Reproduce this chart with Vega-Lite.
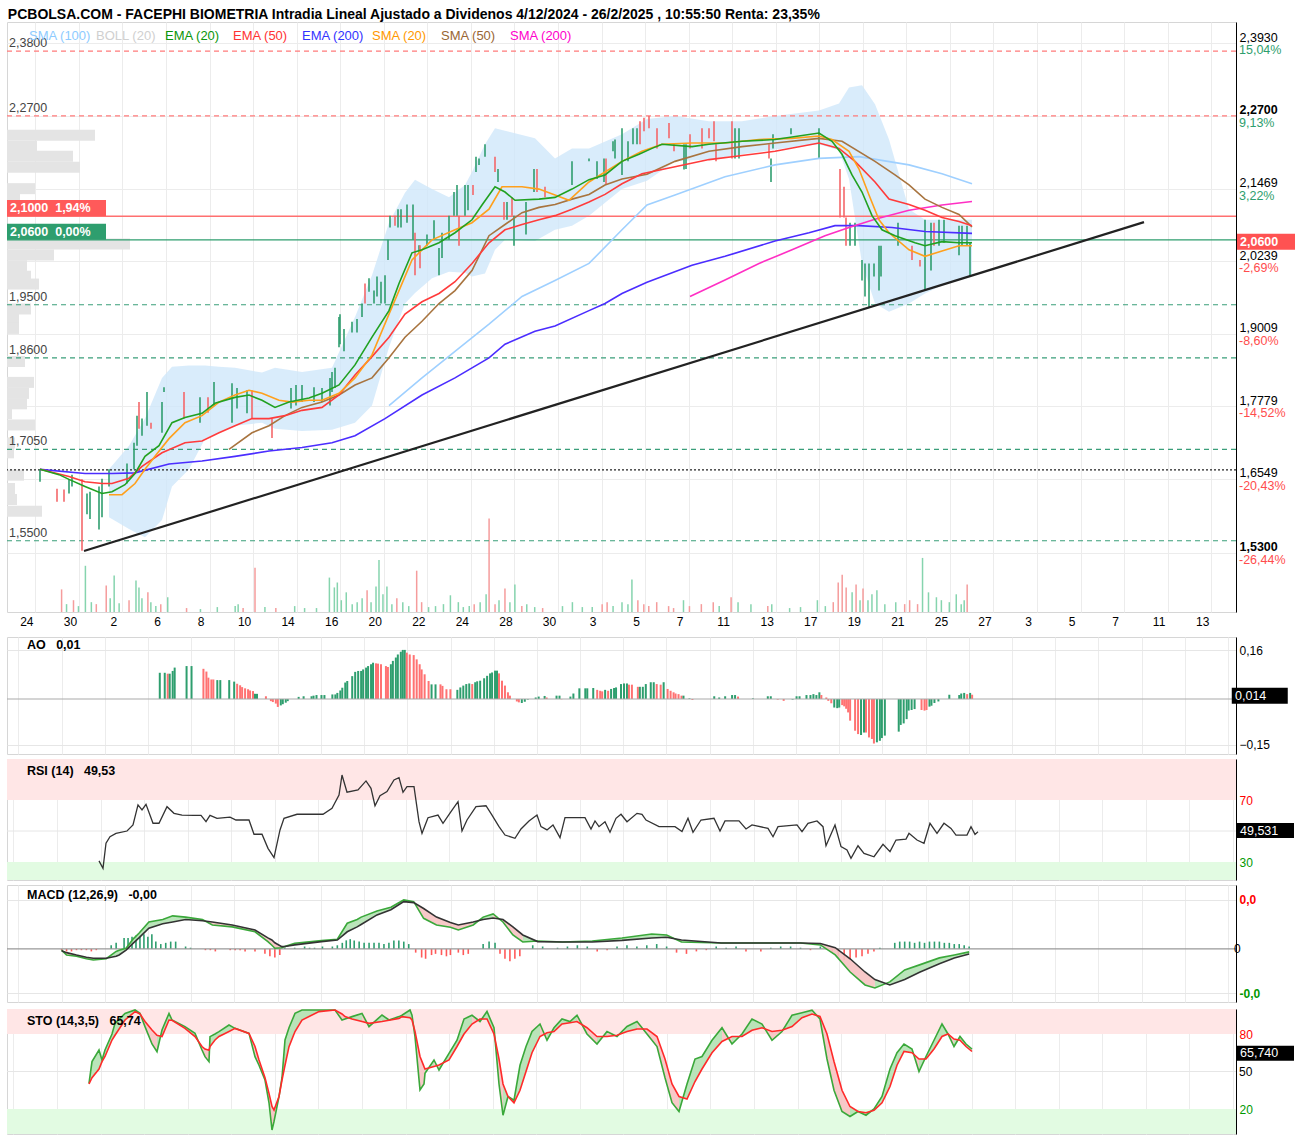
{
"$schema":"https://vega.github.io/schema/vega-lite/v6.json",
"padding":{"left":5,"top":7,"right":0,"bottom":0},
"title":{"text":"PCBOLSA.COM - FACEPHI BIOMETRIA Intradia Lineal Ajustado a Dividenos 4/12/2024 - 26/2/2025 , 10:55:50 Renta: 23,35%","anchor":"start","fontSize":14,"fontWeight":"bold","font":"Liberation Sans","color":"#000","offset":0,"dx":2},
"spacing":3,
"config":{"font":"Liberation Sans","view":{"stroke":"#d6d6d6","strokeWidth":1},"axis":{"labelFont":"Liberation Sans","labelFontSize":12,"labelColor":"#000","domainColor":"#000","ticks":false,"gridColor":"#ececec","labelPadding":3,"labelFlush":false,"labelOverlap":false}},
"vconcat":[
{"width":1229,"height":590,
 "resolve":{"scale":{"x":"independent","y":"independent"}},
 "layer":[
  {"data":{"values":[{"p":2.2425,"v":88},{"p":2.2235,"v":30},{"p":2.2065,"v":66},{"p":2.1875,"v":73},{"p":2.1505,"v":28},{"p":2.135,"v":13},{"p":2.055,"v":123},{"p":2.036,"v":47},{"p":2.0175,"v":20},{"p":1.9995,"v":24},{"p":1.986,"v":32},{"p":1.943,"v":24},{"p":1.9265,"v":12},{"p":1.9095,"v":12},{"p":1.8525,"v":18},{"p":1.8165,"v":27},{"p":1.7975,"v":22},{"p":1.7795,"v":20},{"p":1.7625,"v":5},{"p":1.743,"v":28},{"p":1.712,"v":8},{"p":1.695,"v":7},{"p":1.6565,"v":17},{"p":1.6335,"v":8},{"p":1.6145,"v":10},{"p":1.5945,"v":35}]},
   "mark":{"type":"bar","orient":"horizontal","height":11,"color":"#e4e4e4"},
   "encoding":{"x":{"field":"v","type":"quantitative","scale":{"domain":[0,1229],"nice":false},"axis":null},
     "y":{"field":"p","type":"quantitative","scale":{"domain":[1.4292,2.4292],"nice":false,"zero":false},"axis":null}}},
  {"data":{"values":[{"t":55,"v":23,"d":"d"},{"t":60,"v":8,"d":"u"},{"t":67,"v":12,"d":"d"},{"t":72,"v":6,"d":"u"},{"t":79,"v":47,"d":"u"},{"t":85,"v":10,"d":"u"},{"t":90,"v":8,"d":"d"},{"t":100,"v":27,"d":"d"},{"t":104,"v":14,"d":"u"},{"t":108,"v":37,"d":"u"},{"t":113,"v":9,"d":"u"},{"t":123,"v":12,"d":"d"},{"t":130,"v":32,"d":"u"},{"t":133,"v":25,"d":"u"},{"t":136,"v":14,"d":"u"},{"t":142,"v":20,"d":"d"},{"t":145,"v":10,"d":"u"},{"t":150,"v":6,"d":"u"},{"t":155,"v":8,"d":"d"},{"t":162,"v":15,"d":"u"},{"t":181,"v":4,"d":"d"},{"t":195,"v":3,"d":"u"},{"t":212,"v":5,"d":"u"},{"t":230,"v":6,"d":"u"},{"t":233,"v":8,"d":"u"},{"t":238,"v":4,"d":"d"},{"t":250,"v":45,"d":"d"},{"t":260,"v":5,"d":"u"},{"t":271,"v":4,"d":"d"},{"t":290,"v":6,"d":"u"},{"t":300,"v":4,"d":"u"},{"t":312,"v":4,"d":"u"},{"t":325,"v":35,"d":"u"},{"t":330,"v":25,"d":"u"},{"t":333,"v":30,"d":"u"},{"t":337,"v":12,"d":"u"},{"t":342,"v":20,"d":"u"},{"t":348,"v":8,"d":"u"},{"t":353,"v":10,"d":"u"},{"t":358,"v":14,"d":"u"},{"t":363,"v":22,"d":"d"},{"t":367,"v":10,"d":"u"},{"t":372,"v":26,"d":"u"},{"t":375,"v":53,"d":"u"},{"t":379,"v":18,"d":"u"},{"t":383,"v":26,"d":"u"},{"t":388,"v":8,"d":"u"},{"t":393,"v":14,"d":"d"},{"t":399,"v":10,"d":"u"},{"t":405,"v":6,"d":"u"},{"t":413,"v":42,"d":"d"},{"t":418,"v":10,"d":"d"},{"t":425,"v":5,"d":"u"},{"t":432,"v":6,"d":"u"},{"t":440,"v":8,"d":"u"},{"t":447,"v":17,"d":"u"},{"t":455,"v":10,"d":"u"},{"t":460,"v":5,"d":"u"},{"t":466,"v":6,"d":"u"},{"t":471,"v":8,"d":"d"},{"t":477,"v":10,"d":"u"},{"t":483,"v":18,"d":"u"},{"t":486,"v":95,"d":"d"},{"t":492,"v":8,"d":"d"},{"t":496,"v":12,"d":"u"},{"t":502,"v":24,"d":"d"},{"t":507,"v":10,"d":"u"},{"t":512,"v":28,"d":"u"},{"t":519,"v":6,"d":"d"},{"t":524,"v":8,"d":"u"},{"t":532,"v":5,"d":"u"},{"t":540,"v":4,"d":"d"},{"t":560,"v":6,"d":"u"},{"t":570,"v":10,"d":"u"},{"t":580,"v":5,"d":"u"},{"t":590,"v":5,"d":"u"},{"t":600,"v":8,"d":"d"},{"t":605,"v":10,"d":"d"},{"t":611,"v":6,"d":"u"},{"t":620,"v":10,"d":"u"},{"t":626,"v":8,"d":"u"},{"t":630,"v":33,"d":"u"},{"t":636,"v":12,"d":"d"},{"t":642,"v":8,"d":"d"},{"t":647,"v":6,"d":"d"},{"t":655,"v":10,"d":"d"},{"t":667,"v":6,"d":"d"},{"t":672,"v":4,"d":"d"},{"t":682,"v":12,"d":"u"},{"t":688,"v":6,"d":"d"},{"t":700,"v":8,"d":"d"},{"t":712,"v":10,"d":"d"},{"t":718,"v":6,"d":"u"},{"t":730,"v":15,"d":"d"},{"t":737,"v":10,"d":"u"},{"t":750,"v":8,"d":"u"},{"t":767,"v":6,"d":"d"},{"t":771,"v":8,"d":"u"},{"t":789,"v":4,"d":"u"},{"t":800,"v":5,"d":"u"},{"t":817,"v":12,"d":"u"},{"t":825,"v":6,"d":"u"},{"t":833,"v":10,"d":"d"},{"t":838,"v":30,"d":"d"},{"t":842,"v":38,"d":"d"},{"t":846,"v":25,"d":"d"},{"t":852,"v":20,"d":"u"},{"t":856,"v":28,"d":"d"},{"t":860,"v":12,"d":"u"},{"t":863,"v":24,"d":"d"},{"t":868,"v":12,"d":"u"},{"t":872,"v":18,"d":"u"},{"t":877,"v":22,"d":"u"},{"t":885,"v":8,"d":"u"},{"t":896,"v":10,"d":"u"},{"t":905,"v":8,"d":"d"},{"t":910,"v":12,"d":"d"},{"t":918,"v":8,"d":"d"},{"t":923,"v":55,"d":"u"},{"t":929,"v":20,"d":"u"},{"t":937,"v":15,"d":"u"},{"t":942,"v":12,"d":"u"},{"t":950,"v":10,"d":"u"},{"t":957,"v":18,"d":"u"},{"t":962,"v":8,"d":"u"},{"t":965,"v":12,"d":"u"},{"t":968,"v":28,"d":"d"}]},
   "mark":{"type":"bar","width":1.5},
   "encoding":{"x":{"field":"t","type":"quantitative","scale":{"domain":[5,1234],"nice":false,"zero":false},"axis":null},
     "y":{"field":"v","type":"quantitative","scale":{"domain":[0,600],"nice":false},"axis":null},
     "color":{"condition":{"test":"datum.d=='u'","value":"#86d4ae"},"value":"#f59c9c"}}},
  {"layer":[
    {"data":{"values":[{"t":107,"hi":1.671,"lo":1.590},{"t":127,"hi":1.711,"lo":1.570},{"t":143,"hi":1.757,"lo":1.556},{"t":160,"hi":1.826,"lo":1.585},{"t":170,"hi":1.845,"lo":1.642},{"t":187,"hi":1.847,"lo":1.671},{"t":203,"hi":1.847,"lo":1.723},{"t":217,"hi":1.845,"lo":1.733},{"t":233,"hi":1.843,"lo":1.745},{"t":260,"hi":1.835,"lo":1.750},{"t":273,"hi":1.843,"lo":1.740},{"t":300,"hi":1.836,"lo":1.736},{"t":330,"hi":1.843,"lo":1.738},{"t":353,"hi":1.929,"lo":1.750},{"t":370,"hi":2.000,"lo":1.779},{"t":387,"hi":2.089,"lo":1.878},{"t":403,"hi":2.140,"lo":1.952},{"t":413,"hi":2.162,"lo":1.970},{"t":430,"hi":2.146,"lo":1.995},{"t":447,"hi":2.132,"lo":2.006},{"t":463,"hi":2.153,"lo":2.004},{"t":470,"hi":2.175,"lo":1.998},{"t":483,"hi":2.222,"lo":2.003},{"t":493,"hi":2.249,"lo":2.043},{"t":503,"hi":2.245,"lo":2.060},{"t":533,"hi":2.232,"lo":2.058},{"t":553,"hi":2.198,"lo":2.077},{"t":570,"hi":2.215,"lo":2.084},{"t":587,"hi":2.215,"lo":2.101},{"t":620,"hi":2.239,"lo":2.146},{"t":645,"hi":2.265,"lo":2.160},{"t":673,"hi":2.270,"lo":2.193},{"t":707,"hi":2.261,"lo":2.196},{"t":740,"hi":2.261,"lo":2.205},{"t":773,"hi":2.270,"lo":2.213},{"t":817,"hi":2.279,"lo":2.222},{"t":837,"hi":2.291,"lo":2.212},{"t":847,"hi":2.318,"lo":2.163},{"t":860,"hi":2.322,"lo":2.020},{"t":873,"hi":2.290,"lo":1.952},{"t":887,"hi":2.230,"lo":1.938},{"t":907,"hi":2.112,"lo":1.952},{"t":923,"hi":2.094,"lo":1.969},{"t":940,"hi":2.094,"lo":1.983},{"t":970,"hi":2.094,"lo":2.000}]},
     "mark":{"type":"area","color":"#cfe7fa","opacity":0.8},
     "encoding":{"x":{"field":"t","type":"quantitative","scale":{"domain":[5,1234],"nice":false,"zero":false},
        "axis":{"values":[33.3,76.9,120.4,164,207.5,251.1,294.6,338.2,381.7,425.3,468.8,512.4,555.9,599.5,643,686.6,730.1,773.7,817.2,860.8,904.3,947.9,991.4,1035,1078.5,1122.1,1165.6,1209.2],
          "labelExpr":"['24','30','2','6','8','10','14','16','20','22','24','28','30','3','5','7','11','13','17','19','21','25','27','3','5','7','11','13'][indexof([33.3,76.9,120.4,164,207.5,251.1,294.6,338.2,381.7,425.3,468.8,512.4,555.9,599.5,643,686.6,730.1,773.7,817.2,860.8,904.3,947.9,991.4,1035,1078.5,1122.1,1165.6,1209.2],datum.value)]",
          "labelOffset":-9,"labelPadding":-15.5,"labelFontSize":12,"labelFont":"Liberation Sans Narrow, Liberation Sans","grid":true,"gridColor":"#ececec","domain":false,"ticks":true,"tickSize":20,"tickWidth":1,"tickOpacity":0,"title":null}},
       "y":{"field":"hi","type":"quantitative","scale":{"domain":[1.4292,2.4292],"nice":false,"zero":false},
        "axis":{"orient":"right","values":[2.393,2.27,2.1469,2.0239,1.9009,1.7779,1.6549,1.53],"labelExpr":"replace(format(datum.value,'.4f'),'.',',')","labelBaseline":"alphabetic","labelOffset":-2,"labelFontSize":12.5,"labelFontWeight":{"condition":{"test":"datum.value==2.27||datum.value==1.53","value":"bold"},"value":"normal"},"grid":true,"gridColor":"#ececec","domain":true,"domainColor":"#000","ticks":false,"labelPadding":3,"title":null}},
       "y2":{"field":"lo"}}},
    {"data":{"values":[{"p":2.38},{"p":2.27}]},"mark":{"type":"rule","color":"#ff7b7b","strokeDash":[5,4],"strokeWidth":1.2},"encoding":{"y":{"field":"p","type":"quantitative"}}},
    {"data":{"values":[{"p":1.95},{"p":1.86},{"p":1.705},{"p":1.55}]},"mark":{"type":"rule","color":"#3a9e7a","strokeDash":[5,4],"strokeWidth":1.2},"encoding":{"y":{"field":"p","type":"quantitative"}}},
    {"data":{"values":[{"p":2.10}]},"mark":{"type":"rule","color":"#ff7070","strokeWidth":1.3},"encoding":{"y":{"field":"p","type":"quantitative"}}},
    {"data":{"values":[{"p":2.06}]},"mark":{"type":"rule","color":"#2e9e6e","strokeWidth":1.3},"encoding":{"y":{"field":"p","type":"quantitative"}}},
    {"data":{"values":[{"p":1.670}]},"mark":{"type":"rule","color":"#222222","strokeDash":[2,2],"strokeWidth":1.2},"encoding":{"y":{"field":"p","type":"quantitative"}}},
    {"data":{"values":[{"t":38,"l":1.650,"h":1.671,"d":"u"},{"t":55,"l":1.616,"h":1.638,"d":"d"},{"t":62,"l":1.616,"h":1.637,"d":"d"},{"t":67,"l":1.630,"h":1.654,"d":"u"},{"t":70,"l":1.642,"h":1.662,"d":"u"},{"t":80,"l":1.533,"h":1.654,"d":"d"},{"t":85,"l":1.595,"h":1.630,"d":"u"},{"t":88,"l":1.587,"h":1.633,"d":"u"},{"t":97,"l":1.569,"h":1.642,"d":"u"},{"t":100,"l":1.590,"h":1.655,"d":"u"},{"t":107,"l":1.642,"h":1.671,"d":"u"},{"t":125,"l":1.647,"h":1.681,"d":"u"},{"t":132,"l":1.671,"h":1.716,"d":"u"},{"t":135,"l":1.711,"h":1.762,"d":"u"},{"t":137,"l":1.740,"h":1.785,"d":"d"},{"t":140,"l":1.728,"h":1.757,"d":"u"},{"t":145,"l":1.745,"h":1.802,"d":"u"},{"t":149,"l":1.740,"h":1.750,"d":"d"},{"t":160,"l":1.733,"h":1.785,"d":"u"},{"t":162,"l":1.802,"h":1.810,"d":"u"},{"t":182,"l":1.757,"h":1.802,"d":"d"},{"t":198,"l":1.750,"h":1.793,"d":"u"},{"t":206,"l":1.767,"h":1.793,"d":"d"},{"t":212,"l":1.779,"h":1.819,"d":"u"},{"t":230,"l":1.750,"h":1.817,"d":"u"},{"t":235,"l":1.774,"h":1.809,"d":"u"},{"t":245,"l":1.766,"h":1.805,"d":"u"},{"t":250,"l":1.757,"h":1.805,"d":"d"},{"t":270,"l":1.724,"h":1.757,"d":"d"},{"t":289,"l":1.774,"h":1.809,"d":"u"},{"t":294,"l":1.779,"h":1.814,"d":"u"},{"t":300,"l":1.785,"h":1.814,"d":"u"},{"t":312,"l":1.785,"h":1.810,"d":"u"},{"t":320,"l":1.785,"h":1.809,"d":"u"},{"t":328,"l":1.779,"h":1.826,"d":"u"},{"t":330,"l":1.802,"h":1.836,"d":"u"},{"t":333,"l":1.809,"h":1.843,"d":"u"},{"t":337,"l":1.878,"h":1.929,"d":"u"},{"t":338,"l":1.883,"h":1.934,"d":"u"},{"t":342,"l":1.871,"h":1.909,"d":"u"},{"t":350,"l":1.903,"h":1.921,"d":"u"},{"t":355,"l":1.903,"h":1.926,"d":"u"},{"t":360,"l":1.929,"h":1.952,"d":"u"},{"t":363,"l":1.952,"h":1.986,"d":"d"},{"t":367,"l":1.972,"h":1.995,"d":"u"},{"t":372,"l":1.952,"h":1.974,"d":"u"},{"t":375,"l":1.964,"h":1.998,"d":"u"},{"t":379,"l":1.952,"h":1.989,"d":"u"},{"t":383,"l":1.952,"h":2.000,"d":"u"},{"t":386,"l":2.026,"h":2.060,"d":"u"},{"t":388,"l":2.081,"h":2.101,"d":"u"},{"t":393,"l":2.084,"h":2.101,"d":"d"},{"t":396,"l":2.081,"h":2.112,"d":"u"},{"t":399,"l":2.081,"h":2.112,"d":"u"},{"t":405,"l":2.089,"h":2.120,"d":"u"},{"t":411,"l":2.060,"h":2.120,"d":"u"},{"t":413,"l":2.000,"h":2.072,"d":"d"},{"t":417,"l":2.038,"h":2.051,"d":"u"},{"t":418,"l":2.012,"h":2.051,"d":"d"},{"t":425,"l":2.050,"h":2.069,"d":"u"},{"t":432,"l":2.060,"h":2.093,"d":"u"},{"t":437,"l":2.000,"h":2.046,"d":"u"},{"t":440,"l":2.029,"h":2.072,"d":"u"},{"t":447,"l":2.060,"h":2.101,"d":"u"},{"t":452,"l":2.101,"h":2.141,"d":"u"},{"t":455,"l":2.101,"h":2.153,"d":"u"},{"t":457,"l":2.050,"h":2.101,"d":"d"},{"t":463,"l":2.101,"h":2.153,"d":"u"},{"t":466,"l":2.110,"h":2.153,"d":"u"},{"t":471,"l":2.136,"h":2.153,"d":"d"},{"t":474,"l":2.175,"h":2.201,"d":"u"},{"t":477,"l":2.187,"h":2.198,"d":"u"},{"t":483,"l":2.201,"h":2.222,"d":"u"},{"t":493,"l":2.175,"h":2.201,"d":"d"},{"t":496,"l":2.158,"h":2.180,"d":"u"},{"t":502,"l":2.094,"h":2.124,"d":"d"},{"t":505,"l":2.094,"h":2.124,"d":"u"},{"t":510,"l":2.101,"h":2.132,"d":"d"},{"t":512,"l":2.050,"h":2.101,"d":"u"},{"t":524,"l":2.069,"h":2.124,"d":"u"},{"t":532,"l":2.141,"h":2.180,"d":"u"},{"t":535,"l":2.141,"h":2.180,"d":"d"},{"t":543,"l":2.132,"h":2.150,"d":"d"},{"t":570,"l":2.153,"h":2.193,"d":"u"},{"t":587,"l":2.193,"h":2.198,"d":"u"},{"t":595,"l":2.163,"h":2.193,"d":"u"},{"t":602,"l":2.158,"h":2.198,"d":"u"},{"t":604,"l":2.153,"h":2.198,"d":"d"},{"t":611,"l":2.210,"h":2.227,"d":"u"},{"t":613,"l":2.198,"h":2.230,"d":"u"},{"t":620,"l":2.170,"h":2.249,"d":"u"},{"t":626,"l":2.193,"h":2.227,"d":"u"},{"t":631,"l":2.222,"h":2.249,"d":"u"},{"t":635,"l":2.222,"h":2.249,"d":"u"},{"t":638,"l":2.222,"h":2.261,"d":"d"},{"t":642,"l":2.244,"h":2.267,"d":"d"},{"t":647,"l":2.249,"h":2.270,"d":"d"},{"t":655,"l":2.215,"h":2.249,"d":"d"},{"t":667,"l":2.232,"h":2.258,"d":"d"},{"t":672,"l":2.210,"h":2.222,"d":"d"},{"t":682,"l":2.179,"h":2.222,"d":"u"},{"t":684,"l":2.180,"h":2.222,"d":"u"},{"t":688,"l":2.215,"h":2.239,"d":"d"},{"t":700,"l":2.215,"h":2.249,"d":"d"},{"t":707,"l":2.232,"h":2.249,"d":"d"},{"t":712,"l":2.227,"h":2.261,"d":"d"},{"t":714,"l":2.193,"h":2.222,"d":"d"},{"t":730,"l":2.198,"h":2.261,"d":"d"},{"t":733,"l":2.198,"h":2.249,"d":"u"},{"t":737,"l":2.198,"h":2.249,"d":"u"},{"t":767,"l":2.198,"h":2.222,"d":"d"},{"t":769,"l":2.158,"h":2.198,"d":"u"},{"t":771,"l":2.215,"h":2.239,"d":"u"},{"t":789,"l":2.239,"h":2.249,"d":"u"},{"t":817,"l":2.198,"h":2.249,"d":"u"},{"t":838,"l":2.098,"h":2.180,"d":"d"},{"t":842,"l":2.098,"h":2.150,"d":"d"},{"t":844,"l":2.050,"h":2.098,"d":"d"},{"t":848,"l":2.050,"h":2.089,"d":"u"},{"t":853,"l":2.050,"h":2.089,"d":"u"},{"t":860,"l":1.991,"h":2.026,"d":"u"},{"t":863,"l":1.964,"h":2.020,"d":"u"},{"t":867,"l":1.946,"h":2.020,"d":"u"},{"t":872,"l":1.998,"h":2.020,"d":"u"},{"t":877,"l":1.974,"h":2.050,"d":"u"},{"t":879,"l":1.998,"h":2.050,"d":"u"},{"t":896,"l":2.050,"h":2.089,"d":"u"},{"t":910,"l":2.026,"h":2.050,"d":"d"},{"t":918,"l":2.015,"h":2.026,"d":"d"},{"t":923,"l":1.974,"h":2.094,"d":"u"},{"t":929,"l":2.008,"h":2.089,"d":"u"},{"t":932,"l":2.050,"h":2.089,"d":"d"},{"t":937,"l":2.050,"h":2.094,"d":"u"},{"t":942,"l":2.055,"h":2.094,"d":"u"},{"t":957,"l":2.034,"h":2.084,"d":"u"},{"t":960,"l":2.051,"h":2.084,"d":"u"},{"t":965,"l":2.051,"h":2.084,"d":"u"},{"t":968,"l":1.998,"h":2.055,"d":"u"}]},
     "mark":{"type":"rule","strokeWidth":1.6},
     "encoding":{"x":{"field":"t","type":"quantitative"},"y":{"field":"l","type":"quantitative"},"y2":{"field":"h"},
       "color":{"condition":{"test":"datum.d=='u'","value":"#2f9e6f"},"value":"#f4676a"}}},
    {"data":{"values":[
      {"s":"SMA (100)","t":387,"p":1.779},{"s":"SMA (100)","t":420,"p":1.826},{"s":"SMA (100)","t":453,"p":1.871},{"s":"SMA (100)","t":487,"p":1.917},{"s":"SMA (100)","t":520,"p":1.964},{"s":"SMA (100)","t":553,"p":1.991},{"s":"SMA (100)","t":587,"p":2.020},{"s":"SMA (100)","t":620,"p":2.077},{"s":"SMA (100)","t":645,"p":2.119},{"s":"SMA (100)","t":673,"p":2.136},{"s":"SMA (100)","t":723,"p":2.167},{"s":"SMA (100)","t":773,"p":2.187},{"s":"SMA (100)","t":817,"p":2.198},{"s":"SMA (100)","t":857,"p":2.201},{"s":"SMA (100)","t":907,"p":2.187},{"s":"SMA (100)","t":940,"p":2.172},{"s":"SMA (100)","t":970,"p":2.155},
      {"s":"EMA (200)","t":38,"p":1.671},{"s":"EMA (200)","t":83,"p":1.664},{"s":"EMA (200)","t":110,"p":1.664},{"s":"EMA (200)","t":133,"p":1.665},{"s":"EMA (200)","t":167,"p":1.680},{"s":"EMA (200)","t":200,"p":1.685},{"s":"EMA (200)","t":233,"p":1.693},{"s":"EMA (200)","t":267,"p":1.702},{"s":"EMA (200)","t":300,"p":1.708},{"s":"EMA (200)","t":330,"p":1.716},{"s":"EMA (200)","t":353,"p":1.728},{"s":"EMA (200)","t":383,"p":1.757},{"s":"EMA (200)","t":420,"p":1.797},{"s":"EMA (200)","t":453,"p":1.826},{"s":"EMA (200)","t":487,"p":1.860},{"s":"EMA (200)","t":503,"p":1.883},{"s":"EMA (200)","t":533,"p":1.905},{"s":"EMA (200)","t":553,"p":1.914},{"s":"EMA (200)","t":587,"p":1.940},{"s":"EMA (200)","t":603,"p":1.952},{"s":"EMA (200)","t":620,"p":1.969},{"s":"EMA (200)","t":645,"p":1.988},{"s":"EMA (200)","t":690,"p":2.017},{"s":"EMA (200)","t":723,"p":2.032},{"s":"EMA (200)","t":773,"p":2.058},{"s":"EMA (200)","t":807,"p":2.072},{"s":"EMA (200)","t":833,"p":2.084},{"s":"EMA (200)","t":857,"p":2.084},{"s":"EMA (200)","t":890,"p":2.081},{"s":"EMA (200)","t":923,"p":2.074},{"s":"EMA (200)","t":970,"p":2.071},
      {"s":"SMA (200)","t":688,"p":1.964},{"s":"SMA (200)","t":723,"p":1.992},{"s":"SMA (200)","t":757,"p":2.020},{"s":"SMA (200)","t":790,"p":2.043},{"s":"SMA (200)","t":823,"p":2.067},{"s":"SMA (200)","t":847,"p":2.081},{"s":"SMA (200)","t":873,"p":2.095},{"s":"SMA (200)","t":907,"p":2.110},{"s":"SMA (200)","t":940,"p":2.119},{"s":"SMA (200)","t":970,"p":2.125},
      {"s":"SMA (50)","t":227,"p":1.705},{"s":"SMA (50)","t":250,"p":1.733},{"s":"SMA (50)","t":267,"p":1.745},{"s":"SMA (50)","t":283,"p":1.762},{"s":"SMA (50)","t":300,"p":1.776},{"s":"SMA (50)","t":320,"p":1.785},{"s":"SMA (50)","t":337,"p":1.797},{"s":"SMA (50)","t":353,"p":1.814},{"s":"SMA (50)","t":370,"p":1.826},{"s":"SMA (50)","t":387,"p":1.860},{"s":"SMA (50)","t":403,"p":1.895},{"s":"SMA (50)","t":420,"p":1.922},{"s":"SMA (50)","t":437,"p":1.952},{"s":"SMA (50)","t":453,"p":1.974},{"s":"SMA (50)","t":470,"p":2.008},{"s":"SMA (50)","t":487,"p":2.067},{"s":"SMA (50)","t":503,"p":2.086},{"s":"SMA (50)","t":520,"p":2.106},{"s":"SMA (50)","t":537,"p":2.115},{"s":"SMA (50)","t":553,"p":2.120},{"s":"SMA (50)","t":570,"p":2.129},{"s":"SMA (50)","t":587,"p":2.137},{"s":"SMA (50)","t":603,"p":2.153},{"s":"SMA (50)","t":620,"p":2.163},{"s":"SMA (50)","t":645,"p":2.171},{"s":"SMA (50)","t":673,"p":2.193},{"s":"SMA (50)","t":707,"p":2.210},{"s":"SMA (50)","t":740,"p":2.218},{"s":"SMA (50)","t":773,"p":2.224},{"s":"SMA (50)","t":817,"p":2.232},{"s":"SMA (50)","t":840,"p":2.227},{"s":"SMA (50)","t":873,"p":2.193},{"s":"SMA (50)","t":893,"p":2.170},{"s":"SMA (50)","t":907,"p":2.153},{"s":"SMA (50)","t":923,"p":2.129},{"s":"SMA (50)","t":940,"p":2.115},{"s":"SMA (50)","t":957,"p":2.103},{"s":"SMA (50)","t":970,"p":2.082},
      {"s":"EMA (50)","t":38,"p":1.671},{"s":"EMA (50)","t":67,"p":1.659},{"s":"EMA (50)","t":83,"p":1.650},{"s":"EMA (50)","t":100,"p":1.647},{"s":"EMA (50)","t":110,"p":1.647},{"s":"EMA (50)","t":127,"p":1.656},{"s":"EMA (50)","t":140,"p":1.676},{"s":"EMA (50)","t":160,"p":1.699},{"s":"EMA (50)","t":183,"p":1.716},{"s":"EMA (50)","t":200,"p":1.719},{"s":"EMA (50)","t":217,"p":1.733},{"s":"EMA (50)","t":233,"p":1.745},{"s":"EMA (50)","t":250,"p":1.757},{"s":"EMA (50)","t":267,"p":1.757},{"s":"EMA (50)","t":283,"p":1.762},{"s":"EMA (50)","t":300,"p":1.771},{"s":"EMA (50)","t":320,"p":1.776},{"s":"EMA (50)","t":337,"p":1.797},{"s":"EMA (50)","t":353,"p":1.831},{"s":"EMA (50)","t":370,"p":1.862},{"s":"EMA (50)","t":387,"p":1.895},{"s":"EMA (50)","t":403,"p":1.934},{"s":"EMA (50)","t":420,"p":1.955},{"s":"EMA (50)","t":437,"p":1.969},{"s":"EMA (50)","t":453,"p":1.989},{"s":"EMA (50)","t":470,"p":2.020},{"s":"EMA (50)","t":487,"p":2.055},{"s":"EMA (50)","t":503,"p":2.077},{"s":"EMA (50)","t":520,"p":2.086},{"s":"EMA (50)","t":537,"p":2.094},{"s":"EMA (50)","t":553,"p":2.101},{"s":"EMA (50)","t":570,"p":2.112},{"s":"EMA (50)","t":587,"p":2.124},{"s":"EMA (50)","t":603,"p":2.137},{"s":"EMA (50)","t":620,"p":2.155},{"s":"EMA (50)","t":640,"p":2.172},{"s":"EMA (50)","t":673,"p":2.184},{"s":"EMA (50)","t":707,"p":2.196},{"s":"EMA (50)","t":740,"p":2.203},{"s":"EMA (50)","t":773,"p":2.210},{"s":"EMA (50)","t":817,"p":2.224},{"s":"EMA (50)","t":837,"p":2.215},{"s":"EMA (50)","t":853,"p":2.193},{"s":"EMA (50)","t":873,"p":2.158},{"s":"EMA (50)","t":887,"p":2.129},{"s":"EMA (50)","t":907,"p":2.120},{"s":"EMA (50)","t":923,"p":2.110},{"s":"EMA (50)","t":940,"p":2.098},{"s":"EMA (50)","t":957,"p":2.091},{"s":"EMA (50)","t":970,"p":2.084},
      {"s":"SMA (20)","t":107,"p":1.628},{"s":"SMA (20)","t":120,"p":1.628},{"s":"SMA (20)","t":133,"p":1.647},{"s":"SMA (20)","t":143,"p":1.671},{"s":"SMA (20)","t":153,"p":1.693},{"s":"SMA (20)","t":167,"p":1.723},{"s":"SMA (20)","t":183,"p":1.750},{"s":"SMA (20)","t":200,"p":1.762},{"s":"SMA (20)","t":217,"p":1.785},{"s":"SMA (20)","t":233,"p":1.797},{"s":"SMA (20)","t":247,"p":1.805},{"s":"SMA (20)","t":260,"p":1.800},{"s":"SMA (20)","t":277,"p":1.788},{"s":"SMA (20)","t":290,"p":1.785},{"s":"SMA (20)","t":307,"p":1.788},{"s":"SMA (20)","t":320,"p":1.788},{"s":"SMA (20)","t":337,"p":1.800},{"s":"SMA (20)","t":353,"p":1.826},{"s":"SMA (20)","t":370,"p":1.865},{"s":"SMA (20)","t":387,"p":1.934},{"s":"SMA (20)","t":397,"p":1.974},{"s":"SMA (20)","t":410,"p":2.026},{"s":"SMA (20)","t":430,"p":2.060},{"s":"SMA (20)","t":453,"p":2.077},{"s":"SMA (20)","t":470,"p":2.089},{"s":"SMA (20)","t":487,"p":2.112},{"s":"SMA (20)","t":500,"p":2.150},{"s":"SMA (20)","t":520,"p":2.150},{"s":"SMA (20)","t":537,"p":2.146},{"s":"SMA (20)","t":553,"p":2.136},{"s":"SMA (20)","t":567,"p":2.127},{"s":"SMA (20)","t":587,"p":2.158},{"s":"SMA (20)","t":603,"p":2.175},{"s":"SMA (20)","t":620,"p":2.193},{"s":"SMA (20)","t":640,"p":2.210},{"s":"SMA (20)","t":660,"p":2.222},{"s":"SMA (20)","t":690,"p":2.224},{"s":"SMA (20)","t":723,"p":2.224},{"s":"SMA (20)","t":757,"p":2.230},{"s":"SMA (20)","t":790,"p":2.232},{"s":"SMA (20)","t":817,"p":2.236},{"s":"SMA (20)","t":830,"p":2.230},{"s":"SMA (20)","t":847,"p":2.210},{"s":"SMA (20)","t":857,"p":2.180},{"s":"SMA (20)","t":867,"p":2.136},{"s":"SMA (20)","t":877,"p":2.094},{"s":"SMA (20)","t":887,"p":2.072},{"s":"SMA (20)","t":907,"p":2.043},{"s":"SMA (20)","t":923,"p":2.032},{"s":"SMA (20)","t":940,"p":2.041},{"s":"SMA (20)","t":957,"p":2.050},{"s":"SMA (20)","t":970,"p":2.050},
      {"s":"EMA (20)","t":38,"p":1.671},{"s":"EMA (20)","t":57,"p":1.662},{"s":"EMA (20)","t":67,"p":1.654},{"s":"EMA (20)","t":83,"p":1.642},{"s":"EMA (20)","t":100,"p":1.630},{"s":"EMA (20)","t":110,"p":1.633},{"s":"EMA (20)","t":123,"p":1.645},{"s":"EMA (20)","t":133,"p":1.664},{"s":"EMA (20)","t":143,"p":1.693},{"s":"EMA (20)","t":157,"p":1.711},{"s":"EMA (20)","t":170,"p":1.750},{"s":"EMA (20)","t":183,"p":1.759},{"s":"EMA (20)","t":200,"p":1.766},{"s":"EMA (20)","t":213,"p":1.783},{"s":"EMA (20)","t":233,"p":1.793},{"s":"EMA (20)","t":247,"p":1.797},{"s":"EMA (20)","t":260,"p":1.788},{"s":"EMA (20)","t":273,"p":1.776},{"s":"EMA (20)","t":287,"p":1.785},{"s":"EMA (20)","t":307,"p":1.792},{"s":"EMA (20)","t":320,"p":1.800},{"s":"EMA (20)","t":337,"p":1.814},{"s":"EMA (20)","t":353,"p":1.848},{"s":"EMA (20)","t":370,"p":1.895},{"s":"EMA (20)","t":387,"p":1.940},{"s":"EMA (20)","t":397,"p":1.986},{"s":"EMA (20)","t":410,"p":2.038},{"s":"EMA (20)","t":420,"p":2.043},{"s":"EMA (20)","t":437,"p":2.055},{"s":"EMA (20)","t":453,"p":2.072},{"s":"EMA (20)","t":470,"p":2.094},{"s":"EMA (20)","t":480,"p":2.119},{"s":"EMA (20)","t":493,"p":2.150},{"s":"EMA (20)","t":503,"p":2.141},{"s":"EMA (20)","t":513,"p":2.127},{"s":"EMA (20)","t":537,"p":2.129},{"s":"EMA (20)","t":553,"p":2.132},{"s":"EMA (20)","t":570,"p":2.146},{"s":"EMA (20)","t":587,"p":2.162},{"s":"EMA (20)","t":603,"p":2.170},{"s":"EMA (20)","t":620,"p":2.193},{"s":"EMA (20)","t":637,"p":2.205},{"s":"EMA (20)","t":650,"p":2.215},{"s":"EMA (20)","t":660,"p":2.222},{"s":"EMA (20)","t":690,"p":2.218},{"s":"EMA (20)","t":707,"p":2.222},{"s":"EMA (20)","t":740,"p":2.227},{"s":"EMA (20)","t":773,"p":2.230},{"s":"EMA (20)","t":817,"p":2.241},{"s":"EMA (20)","t":830,"p":2.227},{"s":"EMA (20)","t":840,"p":2.205},{"s":"EMA (20)","t":850,"p":2.170},{"s":"EMA (20)","t":860,"p":2.141},{"s":"EMA (20)","t":870,"p":2.101},{"s":"EMA (20)","t":880,"p":2.077},{"s":"EMA (20)","t":893,"p":2.067},{"s":"EMA (20)","t":913,"p":2.055},{"s":"EMA (20)","t":923,"p":2.050},{"s":"EMA (20)","t":940,"p":2.057},{"s":"EMA (20)","t":957,"p":2.055},{"s":"EMA (20)","t":970,"p":2.055}]},
     "mark":{"type":"line","strokeWidth":1.6},
     "encoding":{"x":{"field":"t","type":"quantitative"},"y":{"field":"p","type":"quantitative"},
       "color":{"field":"s","type":"nominal","scale":{"domain":["SMA (100)","BOLL (20)","EMA (20)","EMA (50)","EMA (200)","SMA (20)","SMA (50)","SMA (200)"],"range":["#9fd0ff","#d0d0d0","#21a121","#ff3b3b","#4b2dff","#ffa01c","#a8743f","#ff2fc4"]},"legend":null}}},
    {"data":{"values":[{"t":82,"p":1.5325},{"t":1142,"p":2.090}]},"mark":{"type":"line","color":"#222222","strokeWidth":2.2},"encoding":{"x":{"field":"t","type":"quantitative"},"y":{"field":"p","type":"quantitative"}}},
    {"data":{"values":[{"p":2.38,"lbl":"2,3800"},{"p":2.27,"lbl":"2,2700"},{"p":1.95,"lbl":"1,9500"},{"p":1.86,"lbl":"1,8600"},{"p":1.705,"lbl":"1,7050"},{"p":1.55,"lbl":"1,5500"}]},
     "mark":{"type":"text","align":"left","baseline":"bottom","dx":2,"dy":-1,"fontSize":12.5,"color":"#444444"},
     "encoding":{"x":{"datum":5},"y":{"field":"p","type":"quantitative"},"text":{"field":"lbl"}}},
    {"data":{"values":[{"p":2.1138,"lbl":"2,1000\u00a0\u00a01,94%","k":"r"},{"p":2.0738,"lbl":"2,0600\u00a0\u00a00,00%","k":"g"}]},
     "layer":[
      {"mark":{"type":"point","shape":"M-1,-0.1616L1,-0.1616L1,0.1616L-1,0.1616Z","size":9801,"filled":true,"opacity":1,"strokeWidth":0},"encoding":{"x":{"datum":54.5},"y":{"field":"p","type":"quantitative"},"color":{"condition":{"test":"datum.k=='r'","value":"#ff5a5a"},"value":"#2e9e6e"}}},
      {"mark":{"type":"text","align":"left","baseline":"middle","dx":3,"fontSize":12.5,"fontWeight":"bold","color":"#ffffff"},"encoding":{"x":{"datum":5},"y":{"field":"p","type":"quantitative"},"text":{"field":"lbl"}}}
     ]},
    {"data":{"values":[{"p":2.393,"pct":"15,04%"},{"p":2.27,"pct":"9,13%"},{"p":2.1469,"pct":"3,22%"},{"p":2.0239,"pct":"-2,69%"},{"p":1.9009,"pct":"-8,60%"},{"p":1.7779,"pct":"-14,52%"},{"p":1.6549,"pct":"-20,43%"},{"p":1.53,"pct":"-26,44%"}]},
     "mark":{"type":"text","align":"left","baseline":"top","dx":3,"dy":1,"fontSize":12.5},
     "encoding":{"x":{"datum":1234},"y":{"field":"p","type":"quantitative"},"text":{"field":"pct"},"color":{"condition":{"test":"datum.p>2.08","value":"#2e9e6e"},"value":"#ff4d4d"}}},
    {"data":{"values":[{"p":2.0566,"lbl":"2,0600"}]},
     "layer":[
      {"mark":{"type":"point","shape":"M-1,-0.2759L1,-0.2759L1,0.2759L-1,0.2759Z","size":3364,"filled":true,"opacity":1,"strokeWidth":0,"color":"#ff5252"},"encoding":{"x":{"datum":1264},"y":{"field":"p","type":"quantitative"}}},
      {"mark":{"type":"text","align":"left","baseline":"middle","dx":4,"fontSize":12.5,"fontWeight":"bold","color":"#ffffff"},"encoding":{"x":{"datum":1234},"y":{"field":"p","type":"quantitative"},"text":{"field":"lbl"}}}
     ]},
    {"data":{"values":[{"p":2.4054}]},
     "layer":[
      {"mark":{"type":"text","align":"left","baseline":"middle","fontSize":13,"color":"#8ecbff"},"encoding":{"x":{"datum":27},"y":{"field":"p","type":"quantitative"},"text":{"value":"SMA (100)"}}},
      {"mark":{"type":"text","align":"left","baseline":"middle","fontSize":13,"color":"#d0d0d0"},"encoding":{"x":{"datum":94},"y":{"field":"p","type":"quantitative"},"text":{"value":"BOLL (20)"}}},
      {"mark":{"type":"text","align":"left","baseline":"middle","fontSize":13,"color":"#0a960a"},"encoding":{"x":{"datum":163},"y":{"field":"p","type":"quantitative"},"text":{"value":"EMA (20)"}}},
      {"mark":{"type":"text","align":"left","baseline":"middle","fontSize":13,"color":"#ff3333"},"encoding":{"x":{"datum":231},"y":{"field":"p","type":"quantitative"},"text":{"value":"EMA (50)"}}},
      {"mark":{"type":"text","align":"left","baseline":"middle","fontSize":13,"color":"#3333ff"},"encoding":{"x":{"datum":300},"y":{"field":"p","type":"quantitative"},"text":{"value":"EMA (200)"}}},
      {"mark":{"type":"text","align":"left","baseline":"middle","fontSize":13,"color":"#ff9900"},"encoding":{"x":{"datum":370},"y":{"field":"p","type":"quantitative"},"text":{"value":"SMA (20)"}}},
      {"mark":{"type":"text","align":"left","baseline":"middle","fontSize":13,"color":"#996633"},"encoding":{"x":{"datum":439},"y":{"field":"p","type":"quantitative"},"text":{"value":"SMA (50)"}}},
      {"mark":{"type":"text","align":"left","baseline":"middle","fontSize":13,"color":"#ff00cc"},"encoding":{"x":{"datum":508},"y":{"field":"p","type":"quantitative"},"text":{"value":"SMA (200)"}}}
     ]}
  ]}
 ]},
{"width":1229,"height":117,
 "title":{"text":"AO\u00a0\u00a0\u00a00,01","anchor":"start","frame":"group","offset":-14.5,"dx":20,"fontSize":12.5,"fontWeight":"bold","color":"#000"},
 "layer":[
  {"data":{"values":[{"t":154,"v":0.086,"d":"u"},{"t":159,"v":0.086,"d":"u"},{"t":162,"v":0.083,"d":"d"},{"t":164,"v":0.083,"d":"u"},{"t":167,"v":0.092,"d":"u"},{"t":169,"v":0.103,"d":"u"},{"t":181,"v":0.108,"d":"u"},{"t":186,"v":0.108,"d":"u"},{"t":198,"v":0.099,"d":"d"},{"t":201,"v":0.090,"d":"d"},{"t":203,"v":0.070,"d":"d"},{"t":206,"v":0.064,"d":"d"},{"t":208,"v":0.064,"d":"d"},{"t":212,"v":0.062,"d":"u"},{"t":215,"v":0.062,"d":"u"},{"t":224,"v":0.062,"d":"u"},{"t":229,"v":0.057,"d":"u"},{"t":232,"v":0.050,"d":"d"},{"t":235,"v":0.045,"d":"d"},{"t":237,"v":0.039,"d":"d"},{"t":240,"v":0.035,"d":"d"},{"t":243,"v":0.032,"d":"d"},{"t":245,"v":0.028,"d":"d"},{"t":248,"v":0.026,"d":"d"},{"t":250,"v":0.017,"d":"u"},{"t":252,"v":0.017,"d":"u"},{"t":261,"v":0.009,"d":"d"},{"t":266,"v":-0.007,"d":"d"},{"t":268,"v":-0.010,"d":"d"},{"t":271,"v":-0.015,"d":"d"},{"t":273,"v":-0.026,"d":"d"},{"t":276,"v":-0.021,"d":"u"},{"t":278,"v":-0.017,"d":"u"},{"t":281,"v":-0.012,"d":"u"},{"t":283,"v":-0.007,"d":"u"},{"t":294,"v":0.007,"d":"u"},{"t":299,"v":0.009,"d":"u"},{"t":307,"v":0.009,"d":"u"},{"t":309,"v":0.011,"d":"u"},{"t":312,"v":0.013,"d":"u"},{"t":317,"v":0.013,"d":"u"},{"t":320,"v":0.013,"d":"u"},{"t":328,"v":0.015,"d":"u"},{"t":331,"v":0.015,"d":"u"},{"t":333,"v":0.020,"d":"u"},{"t":336,"v":0.028,"d":"u"},{"t":338,"v":0.037,"d":"u"},{"t":341,"v":0.054,"d":"u"},{"t":343,"v":0.059,"d":"u"},{"t":348,"v":0.075,"d":"u"},{"t":351,"v":0.089,"d":"u"},{"t":354,"v":0.092,"d":"u"},{"t":357,"v":0.092,"d":"u"},{"t":359,"v":0.097,"d":"u"},{"t":362,"v":0.103,"d":"u"},{"t":364,"v":0.108,"d":"u"},{"t":367,"v":0.114,"d":"u"},{"t":369,"v":0.119,"d":"u"},{"t":372,"v":0.117,"d":"d"},{"t":374,"v":0.116,"d":"d"},{"t":377,"v":0.114,"d":"d"},{"t":382,"v":0.108,"d":"d"},{"t":384,"v":0.105,"d":"d"},{"t":387,"v":0.114,"d":"u"},{"t":389,"v":0.125,"d":"u"},{"t":392,"v":0.136,"d":"u"},{"t":394,"v":0.146,"d":"u"},{"t":397,"v":0.155,"d":"u"},{"t":399,"v":0.161,"d":"u"},{"t":401,"v":0.161,"d":"u"},{"t":403,"v":0.152,"d":"d"},{"t":406,"v":0.146,"d":"d"},{"t":410,"v":0.144,"d":"d"},{"t":413,"v":0.130,"d":"d"},{"t":416,"v":0.114,"d":"d"},{"t":418,"v":0.097,"d":"d"},{"t":421,"v":0.081,"d":"d"},{"t":425,"v":0.059,"d":"d"},{"t":428,"v":0.048,"d":"u"},{"t":432,"v":0.048,"d":"u"},{"t":437,"v":0.048,"d":"d"},{"t":439,"v":0.043,"d":"d"},{"t":443,"v":0.032,"d":"d"},{"t":447,"v":0.032,"d":"d"},{"t":454,"v":0.030,"d":"u"},{"t":457,"v":0.038,"d":"u"},{"t":460,"v":0.044,"d":"u"},{"t":463,"v":0.049,"d":"u"},{"t":466,"v":0.051,"d":"u"},{"t":469,"v":0.049,"d":"d"},{"t":472,"v":0.055,"d":"u"},{"t":474,"v":0.058,"d":"u"},{"t":477,"v":0.060,"d":"u"},{"t":481,"v":0.068,"d":"u"},{"t":484,"v":0.076,"d":"u"},{"t":487,"v":0.084,"d":"u"},{"t":489,"v":0.087,"d":"u"},{"t":492,"v":0.093,"d":"u"},{"t":494,"v":0.093,"d":"u"},{"t":496,"v":0.084,"d":"d"},{"t":499,"v":0.060,"d":"d"},{"t":502,"v":0.044,"d":"d"},{"t":505,"v":0.022,"d":"d"},{"t":507,"v":0.011,"d":"d"},{"t":514,"v":-0.008,"d":"d"},{"t":516,"v":-0.011,"d":"d"},{"t":519,"v":-0.013,"d":"u"},{"t":522,"v":-0.009,"d":"u"},{"t":525,"v":-0.002,"d":"u"},{"t":533,"v":0.005,"d":"u"},{"t":536,"v":0.008,"d":"u"},{"t":542,"v":0.010,"d":"u"},{"t":544,"v":0.005,"d":"d"},{"t":554,"v":0.011,"d":"u"},{"t":557,"v":0.011,"d":"u"},{"t":559,"v":-0.001,"d":"d"},{"t":568,"v":0.008,"d":"u"},{"t":571,"v":0.018,"d":"u"},{"t":577,"v":0.035,"d":"u"},{"t":583,"v":0.035,"d":"u"},{"t":585,"v":0.035,"d":"u"},{"t":591,"v":0.036,"d":"u"},{"t":595,"v":0.030,"d":"d"},{"t":598,"v":0.027,"d":"d"},{"t":600,"v":0.025,"d":"d"},{"t":603,"v":0.030,"d":"u"},{"t":606,"v":0.027,"d":"d"},{"t":609,"v":0.033,"d":"u"},{"t":612,"v":0.036,"d":"u"},{"t":614,"v":0.038,"d":"u"},{"t":619,"v":0.049,"d":"u"},{"t":622,"v":0.051,"d":"u"},{"t":625,"v":0.051,"d":"u"},{"t":627,"v":0.047,"d":"d"},{"t":630,"v":0.047,"d":"d"},{"t":636,"v":0.040,"d":"d"},{"t":638,"v":0.040,"d":"u"},{"t":641,"v":0.040,"d":"u"},{"t":644,"v":0.049,"d":"u"},{"t":649,"v":0.055,"d":"u"},{"t":652,"v":0.055,"d":"u"},{"t":655,"v":0.049,"d":"d"},{"t":659,"v":0.047,"d":"d"},{"t":662,"v":0.055,"d":"u"},{"t":666,"v":0.033,"d":"d"},{"t":669,"v":0.027,"d":"d"},{"t":672,"v":0.022,"d":"d"},{"t":674,"v":0.018,"d":"d"},{"t":677,"v":0.016,"d":"d"},{"t":680,"v":0.011,"d":"d"},{"t":682,"v":0.011,"d":"u"},{"t":688,"v":0.002,"d":"u"},{"t":691,"v":-0.003,"d":"d"},{"t":713,"v":0.009,"d":"u"},{"t":718,"v":0.005,"d":"u"},{"t":724,"v":0.009,"d":"u"},{"t":731,"v":0.013,"d":"u"},{"t":734,"v":0.013,"d":"u"},{"t":737,"v":0.008,"d":"d"},{"t":752,"v":0.002,"d":"u"},{"t":767,"v":0.009,"d":"u"},{"t":770,"v":0.009,"d":"u"},{"t":777,"v":-0.002,"d":"d"},{"t":783,"v":-0.006,"d":"d"},{"t":792,"v":-0.002,"d":"u"},{"t":796,"v":0.009,"d":"u"},{"t":799,"v":0.009,"d":"u"},{"t":806,"v":0.013,"d":"u"},{"t":810,"v":0.013,"d":"u"},{"t":813,"v":0.016,"d":"u"},{"t":816,"v":0.013,"d":"u"},{"t":819,"v":0.022,"d":"u"},{"t":821,"v":0.013,"d":"d"},{"t":826,"v":0.005,"d":"d"},{"t":828,"v":-0.006,"d":"d"},{"t":831,"v":-0.014,"d":"d"},{"t":834,"v":-0.028,"d":"u"},{"t":837,"v":-0.030,"d":"u"},{"t":839,"v":-0.028,"d":"u"},{"t":842,"v":-0.020,"d":"d"},{"t":844,"v":-0.024,"d":"d"},{"t":846,"v":-0.032,"d":"d"},{"t":848,"v":-0.044,"d":"d"},{"t":850,"v":-0.071,"d":"d"},{"t":855,"v":-0.104,"d":"d"},{"t":858,"v":-0.115,"d":"d"},{"t":861,"v":-0.118,"d":"u"},{"t":864,"v":-0.110,"d":"u"},{"t":866,"v":-0.110,"d":"d"},{"t":869,"v":-0.126,"d":"d"},{"t":872,"v":-0.131,"d":"d"},{"t":874,"v":-0.146,"d":"d"},{"t":877,"v":-0.142,"d":"u"},{"t":880,"v":-0.137,"d":"u"},{"t":882,"v":-0.128,"d":"u"},{"t":885,"v":-0.120,"d":"u"},{"t":899,"v":-0.107,"d":"u"},{"t":901,"v":-0.085,"d":"u"},{"t":904,"v":-0.080,"d":"u"},{"t":907,"v":-0.066,"d":"u"},{"t":909,"v":-0.038,"d":"u"},{"t":912,"v":-0.036,"d":"u"},{"t":915,"v":-0.033,"d":"u"},{"t":922,"v":-0.036,"d":"d"},{"t":925,"v":-0.038,"d":"d"},{"t":927,"v":-0.036,"d":"d"},{"t":930,"v":-0.025,"d":"u"},{"t":932,"v":-0.022,"d":"u"},{"t":935,"v":-0.013,"d":"u"},{"t":939,"v":-0.008,"d":"u"},{"t":950,"v":0.014,"d":"u"},{"t":960,"v":0.013,"d":"u"},{"t":962,"v":0.018,"d":"u"},{"t":965,"v":0.020,"d":"u"},{"t":968,"v":0.016,"d":"d"},{"t":971,"v":0.020,"d":"u"},{"t":973,"v":0.014,"d":"d"}]},
   "mark":{"type":"bar","width":2},
   "encoding":{"x":{"field":"t","type":"quantitative","scale":{"domain":[5,1234],"nice":false,"zero":false},"axis":{"values":[11.5,33.3,55.1,76.9,98.6,120.4,142.2,164,185.7,207.5,229.3,251.1,272.9,294.6,316.4,338.2,360,381.7,403.5,425.3,447.1,468.8,490.6,512.4,534.2,555.9,577.7,599.5,621.3,643,664.8,686.6,708.4,730.1,751.9,773.7,795.5,817.2,839,860.8,882.6,904.3,926.1,947.9,969.7,991.4,1013.2,1035,1056.8,1078.5,1100.3,1122.1,1143.9,1165.6,1187.4,1209.2,1231],"labels":false,"ticks":false,"domain":false,"grid":true,"gridColor":"#ececec","minExtent":0,"maxExtent":0,"title":null}},
     "y":{"field":"v","type":"quantitative","scale":{"domain":[-0.1803,0.2033],"nice":false},"axis":{"orient":"right","values":[0.16,-0.15],"labelExpr":"replace(format(datum.value,'.2f'),'.',',')","grid":true,"gridColor":"#e6e6e6","domainColor":"#000","title":null}},
     "color":{"condition":{"test":"datum.d=='u'","value":"#2e9e6e"},"value":"#ff7272"}}},
  {"data":{"values":[{"z":0}]},"mark":{"type":"rule","color":"#aaaaaa","strokeWidth":1.2},"encoding":{"y":{"field":"z","type":"quantitative"}}},
  {"data":{"values":[{"v":0.011,"lbl":"0,014"}]},
   "layer":[
    {"mark":{"type":"point","shape":"M-1,-0.2857L1,-0.2857L1,0.2857L-1,0.2857Z","size":3136,"filled":true,"opacity":1,"strokeWidth":0,"color":"#000000"},"encoding":{"x":{"datum":1263},"y":{"field":"v","type":"quantitative"}}},
    {"mark":{"type":"text","align":"left","baseline":"middle","dx":4,"fontSize":12.5,"color":"#ffffff"},"encoding":{"x":{"datum":1234},"y":{"field":"v","type":"quantitative"},"text":{"field":"lbl"}}}
   ]}
 ]},
{"width":1229,"height":121,
 "title":{"text":"RSI (14)\u00a0\u00a0\u00a049,53","anchor":"start","frame":"group","offset":-18,"dx":20,"fontSize":12.5,"fontWeight":"bold","color":"#000"},
 "layer":[
  {"data":{"values":[{"lo":70,"hi":96.45,"k":"r"},{"lo":18.4,"hi":30,"k":"g"}]},
   "mark":{"type":"rect"},
   "encoding":{"y":{"field":"hi","type":"quantitative","scale":{"domain":[18.4,96.45],"nice":false,"zero":false},"axis":{"orient":"right","values":[70,30],"labelColor":{"condition":{"test":"datum.value==70","value":"#ff0000"},"value":"#009900"},"grid":false,"domainColor":"#000","title":null}},
     "y2":{"field":"lo"},
     "color":{"condition":{"test":"datum.k=='r'","value":"#ffe6e6"},"value":"#e2fbe2"}}},
  {"data":{"values":[{"g":50}]},"mark":{"type":"rule","color":"#e6e6e6","strokeWidth":1},"encoding":{"y":{"field":"g","type":"quantitative"}}},
  {"data":{"values":[{"t":97,"v":30.7},{"t":101,"v":25.9},{"t":104,"v":42.1},{"t":108,"v":46.3},{"t":114,"v":48.5},{"t":125,"v":50.0},{"t":131,"v":53.9},{"t":136,"v":66.8},{"t":140,"v":63.6},{"t":144,"v":67.2},{"t":151,"v":55.0},{"t":157,"v":55.0},{"t":165,"v":65.7},{"t":172,"v":61.4},{"t":180,"v":60.3},{"t":192,"v":60.1},{"t":199,"v":60.1},{"t":204,"v":56.0},{"t":208,"v":60.1},{"t":215,"v":58.2},{"t":228,"v":59.0},{"t":234,"v":57.1},{"t":247,"v":57.1},{"t":252,"v":47.9},{"t":260,"v":47.9},{"t":266,"v":38.8},{"t":272,"v":32.8},{"t":278,"v":50.7},{"t":282,"v":58.2},{"t":295,"v":60.8},{"t":321,"v":60.8},{"t":330,"v":64.6},{"t":337,"v":73.2},{"t":340,"v":86.1},{"t":345,"v":75.0},{"t":356,"v":76.5},{"t":364,"v":82.3},{"t":369,"v":77.5},{"t":373,"v":66.3},{"t":378,"v":72.8},{"t":385,"v":75.4},{"t":392,"v":82.9},{"t":397,"v":84.4},{"t":401,"v":75.0},{"t":405,"v":78.6},{"t":412,"v":78.6},{"t":417,"v":56.0},{"t":420,"v":48.5},{"t":426,"v":58.6},{"t":436,"v":60.3},{"t":441,"v":55.0},{"t":449,"v":62.5},{"t":456,"v":68.9},{"t":460,"v":50.0},{"t":465,"v":57.1},{"t":474,"v":65.7},{"t":484,"v":66.3},{"t":490,"v":60.3},{"t":497,"v":52.8},{"t":503,"v":47.4},{"t":513,"v":45.3},{"t":519,"v":51.3},{"t":527,"v":56.5},{"t":535,"v":60.3},{"t":539,"v":52.8},{"t":545,"v":50.7},{"t":551,"v":53.9},{"t":558,"v":45.7},{"t":563,"v":58.6},{"t":583,"v":58.6},{"t":589,"v":51.3},{"t":593,"v":56.5},{"t":597,"v":52.8},{"t":603,"v":56.0},{"t":608,"v":49.2},{"t":614,"v":58.2},{"t":619,"v":60.8},{"t":625,"v":56.0},{"t":635,"v":61.4},{"t":640,"v":60.8},{"t":644,"v":57.1},{"t":657,"v":52.8},{"t":673,"v":52.8},{"t":680,"v":49.6},{"t":686,"v":58.2},{"t":691,"v":49.2},{"t":699,"v":57.1},{"t":712,"v":58.2},{"t":718,"v":50.0},{"t":723,"v":56.5},{"t":737,"v":56.5},{"t":744,"v":51.3},{"t":750,"v":53.9},{"t":766,"v":51.7},{"t":771,"v":46.3},{"t":776,"v":52.8},{"t":795,"v":53.9},{"t":800,"v":49.6},{"t":806,"v":55.0},{"t":815,"v":56.5},{"t":821,"v":52.8},{"t":824,"v":40.5},{"t":833,"v":53.9},{"t":839,"v":39.9},{"t":845,"v":37.8},{"t":849,"v":32.4},{"t":856,"v":40.5},{"t":862,"v":35.6},{"t":872,"v":33.4},{"t":881,"v":41.4},{"t":888,"v":36.7},{"t":894,"v":44.2},{"t":904,"v":44.8},{"t":907,"v":48.5},{"t":915,"v":44.2},{"t":922,"v":42.1},{"t":928,"v":55.0},{"t":935,"v":48.5},{"t":942,"v":55.0},{"t":949,"v":51.7},{"t":954,"v":47.4},{"t":965,"v":47.4},{"t":969,"v":52.8},{"t":973,"v":47.8},{"t":976,"v":49.5}]},
   "mark":{"type":"line","color":"#333333","strokeWidth":1.3},
   "encoding":{"x":{"field":"t","type":"quantitative","scale":{"domain":[5,1234],"nice":false,"zero":false},"axis":{"values":[11.5,33.3,55.1,76.9,98.6,120.4,142.2,164,185.7,207.5,229.3,251.1,272.9,294.6,316.4,338.2,360,381.7,403.5,425.3,447.1,468.8,490.6,512.4,534.2,555.9,577.7,599.5,621.3,643,664.8,686.6,708.4,730.1,751.9,773.7,795.5,817.2,839,860.8,882.6,904.3,926.1,947.9,969.7,991.4,1013.2,1035,1056.8,1078.5,1100.3,1122.1,1143.9,1165.6,1187.4,1209.2,1231],"labels":false,"ticks":false,"domain":false,"grid":true,"gridColor":"#ececec","minExtent":0,"maxExtent":0,"title":null}},"y":{"field":"v","type":"quantitative"}}},
  {"data":{"values":[{"v":50.3,"lbl":"49,531"}]},
   "layer":[
    {"mark":{"type":"point","shape":"M-1,-0.263L1,-0.263L1,0.263L-1,0.263Z","size":3249,"filled":true,"opacity":1,"strokeWidth":0,"color":"#000000"},"encoding":{"x":{"datum":1263.5},"y":{"field":"v","type":"quantitative"}}},
    {"mark":{"type":"text","align":"left","baseline":"middle","dx":4,"fontSize":12.5,"color":"#ffffff"},"encoding":{"x":{"datum":1234},"y":{"field":"v","type":"quantitative"},"text":{"field":"lbl"}}}
   ]}
 ]},
{"width":1229,"height":117,
 "title":{"text":"MACD (12,26,9)\u00a0\u00a0\u00a0-0,00","anchor":"start","frame":"group","offset":-16,"dx":20,"fontSize":12.5,"fontWeight":"bold","color":"#000"},
 "layer":[
  {"data":{"values":[{"t":55,"v":-0.001},{"t":60,"v":-0.002},{"t":65,"v":-0.002},{"t":70,"v":-0.001},{"t":75,"v":-0.001},{"t":80,"v":-0.001},{"t":85,"v":-0.002},{"t":90,"v":-0.001},{"t":105,"v":0.003},{"t":110,"v":0.005},{"t":118,"v":0.009},{"t":122,"v":0.009},{"t":126,"v":0.010},{"t":130,"v":0.011},{"t":134,"v":0.011},{"t":138,"v":0.012},{"t":142,"v":0.010},{"t":146,"v":0.012},{"t":150,"v":0.006},{"t":155,"v":0.004},{"t":160,"v":0.005},{"t":165,"v":0.006},{"t":170,"v":0.006},{"t":180,"v":0.002},{"t":185,"v":0.001},{"t":200,"v":-0.001},{"t":205,"v":-0.001},{"t":210,"v":-0.002},{"t":225,"v":-0.001},{"t":230,"v":-0.001},{"t":235,"v":-0.001},{"t":240,"v":-0.002},{"t":250,"v":-0.002},{"t":260,"v":-0.004},{"t":265,"v":-0.006},{"t":270,"v":-0.007},{"t":275,"v":-0.005},{"t":280,"v":0.001},{"t":290,"v":0.001},{"t":300,"v":0.002},{"t":305,"v":0.001},{"t":310,"v":0.001},{"t":318,"v":0.002},{"t":328,"v":0.002},{"t":333,"v":0.003},{"t":338,"v":0.005},{"t":342,"v":0.007},{"t":346,"v":0.008},{"t":350,"v":0.007},{"t":355,"v":0.006},{"t":360,"v":0.005},{"t":365,"v":0.005},{"t":370,"v":0.005},{"t":375,"v":0.005},{"t":380,"v":0.004},{"t":385,"v":0.005},{"t":390,"v":0.007},{"t":395,"v":0.007},{"t":400,"v":0.006},{"t":405,"v":0.004},{"t":412,"v":-0.003},{"t":418,"v":-0.007},{"t":422,"v":-0.008},{"t":428,"v":-0.005},{"t":432,"v":-0.004},{"t":438,"v":-0.005},{"t":443,"v":-0.006},{"t":447,"v":-0.005},{"t":455,"v":-0.003},{"t":460,"v":-0.005},{"t":465,"v":-0.004},{"t":480,"v":0.004},{"t":486,"v":0.006},{"t":492,"v":0.005},{"t":497,"v":-0.004},{"t":502,"v":-0.008},{"t":507,"v":-0.010},{"t":512,"v":-0.008},{"t":517,"v":-0.006},{"t":530,"v":0.003},{"t":540,"v":0.002},{"t":555,"v":0.001},{"t":565,"v":0.002},{"t":575,"v":0.003},{"t":585,"v":0.002},{"t":595,"v":-0.002},{"t":605,"v":-0.001},{"t":615,"v":0.002},{"t":625,"v":0.003},{"t":635,"v":0.002},{"t":645,"v":0.003},{"t":655,"v":0.004},{"t":665,"v":0.002},{"t":675,"v":-0.003},{"t":685,"v":-0.004},{"t":695,"v":-0.002},{"t":705,"v":-0.001},{"t":715,"v":0.002},{"t":725,"v":0.001},{"t":735,"v":0.002},{"t":745,"v":-0.002},{"t":760,"v":-0.002},{"t":770,"v":0.001},{"t":780,"v":0.002},{"t":790,"v":0.002},{"t":800,"v":0.001},{"t":810,"v":-0.001},{"t":820,"v":0.002},{"t":832,"v":-0.003},{"t":838,"v":-0.006},{"t":844,"v":-0.009},{"t":850,"v":-0.009},{"t":856,"v":-0.007},{"t":862,"v":-0.006},{"t":868,"v":-0.004},{"t":874,"v":-0.002},{"t":880,"v":0.001},{"t":895,"v":0.005},{"t":900,"v":0.006},{"t":905,"v":0.006},{"t":910,"v":0.006},{"t":915,"v":0.005},{"t":920,"v":0.006},{"t":925,"v":0.005},{"t":930,"v":0.006},{"t":935,"v":0.006},{"t":940,"v":0.006},{"t":945,"v":0.005},{"t":950,"v":0.005},{"t":955,"v":0.004},{"t":960,"v":0.004},{"t":965,"v":0.003},{"t":970,"v":0.002}]},
   "mark":{"type":"bar","width":1.6},
   "encoding":{"x":{"field":"t","type":"quantitative","scale":{"domain":[5,1234],"nice":false,"zero":false},"axis":{"values":[11.5,33.3,55.1,76.9,98.6,120.4,142.2,164,185.7,207.5,229.3,251.1,272.9,294.6,316.4,338.2,360,381.7,403.5,425.3,447.1,468.8,490.6,512.4,534.2,555.9,577.7,599.5,621.3,643,664.8,686.6,708.4,730.1,751.9,773.7,795.5,817.2,839,860.8,882.6,904.3,926.1,947.9,969.7,991.4,1013.2,1035,1056.8,1078.5,1100.3,1122.1,1143.9,1165.6,1187.4,1209.2,1231],"labels":false,"ticks":false,"domain":false,"grid":true,"gridColor":"#ececec","minExtent":0,"maxExtent":0,"title":null}},
     "y":{"field":"v","type":"quantitative","scale":{"domain":[-0.0433,0.0522],"nice":false},"axis":{"orient":"right","values":[0.04,-0.036],"labelExpr":"datum.value>0?'0,0':'-0,0'","labelFontWeight":"bold","labelColor":{"condition":{"test":"datum.value>0","value":"#ff0000"},"value":"#009900"},"grid":true,"gridColor":"#e6e6e6","domainColor":"#000","title":null}},
     "color":{"condition":{"test":"datum.v>=0","value":"#2e9e6e"},"value":"#ff5a5a"}}},
  {"data":{"values":[{"z":0,"lbl":"0"}]},
   "layer":[
    {"mark":{"type":"rule","color":"#999999","strokeWidth":1.2},"encoding":{"y":{"field":"z","type":"quantitative"}}},
    {"mark":{"type":"text","align":"left","baseline":"middle","dx":3,"fontSize":12,"color":"#000000"},"encoding":{"x":{"datum":1234},"y":{"field":"z","type":"quantitative"},"text":{"field":"lbl"}}}
   ]},
  {"data":{"values":[{"t":55,"m":-0.001,"s":-0.0014,"c":"g","g":1},{"t":55,"m":-0.001,"s":-0.0014,"c":"r","g":2},{"t":60,"m":-0.005,"s":-0.003,"c":"r","g":2},{"t":70,"m":-0.006,"s":-0.005,"c":"r","g":2},{"t":80,"m":-0.008,"s":-0.0068,"c":"r","g":2},{"t":87,"m":-0.009,"s":-0.0076,"c":"r","g":2},{"t":100,"m":-0.008,"s":-0.0076,"c":"r","g":2},
    {"t":100,"m":-0.008,"s":-0.0076,"c":"g","g":3},{"t":110,"m":-0.002,"s":-0.006,"c":"g","g":3},{"t":113,"m":-0.001,"s":-0.0049,"c":"g","g":3},{"t":120,"m":0.0006,"s":-0.001,"c":"g","g":3},{"t":127,"m":0.008,"s":0.0046,"c":"g","g":3},{"t":133,"m":0.0128,"s":0.009,"c":"g","g":3},{"t":143,"m":0.022,"s":0.017,"c":"g","g":3},{"t":157,"m":0.024,"s":0.0205,"c":"g","g":3},{"t":167,"m":0.027,"s":0.022,"c":"g","g":3},{"t":180,"m":0.026,"s":0.024,"c":"g","g":3},{"t":197,"m":0.024,"s":0.023,"c":"g","g":3},
    {"t":197,"m":0.024,"s":0.023,"c":"r","g":4},{"t":207,"m":0.0196,"s":0.022,"c":"r","g":4},{"t":227,"m":0.018,"s":0.0196,"c":"r","g":4},{"t":250,"m":0.014,"s":0.0155,"c":"r","g":4},{"t":263,"m":0.006,"s":0.009,"c":"r","g":4},{"t":267,"m":0.003,"s":0.0073,"c":"r","g":4},{"t":270,"m":0.0006,"s":0.005,"c":"r","g":4},{"t":277,"m":0.001,"s":0.0019,"c":"r","g":4},{"t":280,"m":0.0019,"s":0.002,"c":"r","g":4},
    {"t":280,"m":0.0019,"s":0.002,"c":"g","g":5},{"t":290,"m":0.0046,"s":0.0033,"c":"g","g":5},{"t":317,"m":0.0068,"s":0.006,"c":"g","g":5},{"t":333,"m":0.0079,"s":0.0073,"c":"g","g":5},{"t":343,"m":0.021,"s":0.014,"c":"g","g":5},{"t":353,"m":0.024,"s":0.018,"c":"g","g":5},{"t":357,"m":0.026,"s":0.02,"c":"g","g":5},{"t":373,"m":0.031,"s":0.0278,"c":"g","g":5},{"t":387,"m":0.034,"s":0.032,"c":"g","g":5},{"t":400,"m":0.040,"s":0.0386,"c":"g","g":5},{"t":410,"m":0.0386,"s":0.0378,"c":"g","g":5},
    {"t":410,"m":0.0386,"s":0.0378,"c":"r","g":6},{"t":420,"m":0.025,"s":0.033,"c":"r","g":6},{"t":433,"m":0.0196,"s":0.026,"c":"r","g":6},{"t":447,"m":0.0177,"s":0.0215,"c":"r","g":6},{"t":455,"m":0.0155,"s":0.0196,"c":"r","g":6},{"t":470,"m":0.0196,"s":0.022,"c":"r","g":6},
    {"t":470,"m":0.0196,"s":0.022,"c":"g","g":7},{"t":480,"m":0.026,"s":0.024,"c":"g","g":7},{"t":490,"m":0.0286,"s":0.0253,"c":"g","g":7},
    {"t":490,"m":0.0286,"s":0.0253,"c":"r","g":8},{"t":500,"m":0.022,"s":0.024,"c":"r","g":8},{"t":510,"m":0.0114,"s":0.018,"c":"r","g":8},{"t":520,"m":0.0057,"s":0.0114,"c":"r","g":8},
    {"t":520,"m":0.0057,"s":0.0114,"c":"g","g":9},{"t":535,"m":0.0065,"s":0.006,"c":"g","g":9},{"t":560,"m":0.0057,"s":0.0057,"c":"g","g":9},{"t":590,"m":0.0065,"s":0.0057,"c":"g","g":9},{"t":620,"m":0.009,"s":0.007,"c":"g","g":9},{"t":650,"m":0.0122,"s":0.009,"c":"g","g":9},{"t":665,"m":0.0114,"s":0.0095,"c":"g","g":9},
    {"t":665,"m":0.0114,"s":0.0095,"c":"r","g":10},{"t":680,"m":0.0057,"s":0.0073,"c":"r","g":10},
    {"t":680,"m":0.0057,"s":0.0073,"c":"g","g":11},{"t":720,"m":0.0049,"s":0.0049,"c":"g","g":11},{"t":760,"m":0.0049,"s":0.0049,"c":"g","g":11},{"t":800,"m":0.0049,"s":0.0049,"c":"g","g":11},
    {"t":800,"m":0.0049,"s":0.0049,"c":"r","g":12},{"t":820,"m":0.0033,"s":0.0045,"c":"r","g":12},{"t":835,"m":-0.0049,"s":0.001,"c":"r","g":12},{"t":850,"m":-0.0188,"s":-0.008,"c":"r","g":12},{"t":865,"m":-0.0294,"s":-0.0188,"c":"r","g":12},{"t":875,"m":-0.0318,"s":-0.025,"c":"r","g":12},
    {"t":875,"m":-0.0318,"s":-0.025,"c":"g","g":13},{"t":890,"m":-0.0269,"s":-0.0294,"c":"g","g":13},{"t":905,"m":-0.0171,"s":-0.025,"c":"g","g":13},{"t":920,"m":-0.013,"s":-0.019,"c":"g","g":13},{"t":940,"m":-0.0073,"s":-0.012,"c":"g","g":13},{"t":955,"m":-0.0049,"s":-0.0073,"c":"g","g":13},{"t":970,"m":-0.0024,"s":-0.0041,"c":"g","g":13}]},
   "layer":[
    {"mark":{"type":"area","opacity":0.9},"encoding":{"x":{"field":"t","type":"quantitative"},"y":{"field":"m","type":"quantitative"},"y2":{"field":"s"},"detail":{"field":"g","type":"nominal"},"color":{"condition":{"test":"datum.c=='g'","value":"#b2e2b2"},"value":"#f7c2c2"}}},
    {"mark":{"type":"line","color":"#3aa83a","strokeWidth":1.6},"encoding":{"x":{"field":"t","type":"quantitative"},"y":{"field":"m","type":"quantitative"}}},
    {"mark":{"type":"line","color":"#333333","strokeWidth":1.6},"encoding":{"x":{"field":"t","type":"quantitative"},"y":{"field":"s","type":"quantitative"}}}
   ]}
 ]},
{"width":1229,"height":125,
 "title":{"text":"STO (14,3,5)\u00a0\u00a0\u00a065,74","anchor":"start","frame":"group","offset":-21,"dx":20,"fontSize":12.5,"fontWeight":"bold","color":"#000"},
 "layer":[
  {"data":{"values":[{"lo":80,"hi":100,"k":"r"},{"lo":0,"hi":20,"k":"g"}]},
   "mark":{"type":"rect"},
   "encoding":{"y":{"field":"hi","type":"quantitative","scale":{"domain":[0,100],"nice":false},"axis":{"orient":"right","values":[80,20],"labelColor":{"condition":{"test":"datum.value==80","value":"#ff0000"},"value":"#009900"},"grid":false,"domainColor":"#000","title":null}},
     "y2":{"field":"lo"},
     "color":{"condition":{"test":"datum.k=='r'","value":"#ffe6e6"},"value":"#e2fbe2"}}},
  {"data":{"values":[{"g":50,"lbl":"50"}]},
   "layer":[
    {"mark":{"type":"rule","color":"#e6e6e6","strokeWidth":1},"encoding":{"y":{"field":"g","type":"quantitative"}}},
    {"mark":{"type":"text","align":"left","baseline":"middle","dx":3,"fontSize":12,"color":"#000000"},"encoding":{"x":{"datum":1234},"y":{"field":"g","type":"quantitative"},"text":{"field":"lbl"}}}
   ]},
  {"data":{"values":[
    {"t":87,"k":40.5,"d":40,"c":"g","g":1},{"t":90,"k":57.9,"d":45,"c":"g","g":1},{"t":97,"k":67.2,"d":52,"c":"g","g":1},{"t":100,"k":59.2,"d":57.9,"c":"g","g":1},{"t":103,"k":67.2,"d":62,"c":"g","g":1},{"t":110,"k":80,"d":75.2,"c":"g","g":1},{"t":113,"k":88.5,"d":79,"c":"g","g":1},{"t":123,"k":96.5,"d":91.2,"c":"g","g":1},{"t":133,"k":99.2,"d":97.9,"c":"g","g":1},{"t":138,"k":96.5,"d":96,"c":"g","g":1},
    {"t":138,"k":96.5,"d":96,"c":"r","g":2},{"t":143,"k":85.9,"d":90,"c":"r","g":2},{"t":150,"k":72,"d":83.2,"c":"r","g":2},{"t":155,"k":65.9,"d":79,"c":"r","g":2},
    {"t":155,"k":65.9,"d":79,"c":"g","g":3},{"t":160,"k":83.2,"d":78,"c":"g","g":3},{"t":167,"k":96.5,"d":91.2,"c":"g","g":3},{"t":170,"k":91.2,"d":91,"c":"g","g":3},{"t":183,"k":85.9,"d":84.5,"c":"g","g":3},{"t":193,"k":80.5,"d":77.9,"c":"g","g":3},
    {"t":193,"k":80.5,"d":77.9,"c":"r","g":4},{"t":200,"k":67.2,"d":70,"c":"r","g":4},{"t":203,"k":61.9,"d":68,"c":"r","g":4},{"t":207,"k":57.9,"d":67,"c":"r","g":4},
    {"t":207,"k":57.9,"d":67,"c":"g","g":5},{"t":208,"k":77.9,"d":70,"c":"g","g":5},{"t":213,"k":80,"d":75.2,"c":"g","g":5},{"t":217,"k":81.9,"d":78,"c":"g","g":5},{"t":227,"k":87.2,"d":82,"c":"g","g":5},{"t":233,"k":84.5,"d":84.5,"c":"g","g":5},{"t":247,"k":80.5,"d":80.5,"c":"g","g":5},
    {"t":247,"k":80.5,"d":80.5,"c":"r","g":6},{"t":253,"k":61.9,"d":70,"c":"r","g":6},{"t":257,"k":55,"d":59.2,"c":"r","g":6},{"t":263,"k":43.2,"d":45,"c":"r","g":6},{"t":267,"k":25,"d":32.5,"c":"r","g":6},{"t":270,"k":3.2,"d":22,"c":"r","g":6},{"t":272,"k":10,"d":19.2,"c":"r","g":6},{"t":277,"k":29.9,"d":30,"c":"r","g":6},
    {"t":277,"k":29.9,"d":30,"c":"g","g":7},{"t":280,"k":45,"d":43.2,"c":"g","g":7},{"t":283,"k":75.2,"d":55,"c":"g","g":7},{"t":287,"k":85,"d":69.9,"c":"g","g":7},{"t":293,"k":96.5,"d":82,"c":"g","g":7},{"t":300,"k":99.2,"d":91.2,"c":"g","g":7},{"t":317,"k":99.2,"d":97.9,"c":"g","g":7},{"t":333,"k":99.2,"d":99.2,"c":"g","g":7},
    {"t":333,"k":99.2,"d":99.2,"c":"r","g":8},{"t":340,"k":91.2,"d":96,"c":"r","g":8},{"t":343,"k":92,"d":93.9,"c":"r","g":8},
    {"t":343,"k":92,"d":93.9,"c":"g","g":9},{"t":350,"k":93.9,"d":92,"c":"g","g":9},{"t":360,"k":96.5,"d":90,"c":"g","g":9},
    {"t":360,"k":96.5,"d":90,"c":"r","g":10},{"t":367,"k":85.9,"d":88.5,"c":"r","g":10},
    {"t":367,"k":85.9,"d":88.5,"c":"g","g":11},{"t":380,"k":95.2,"d":90,"c":"g","g":11},{"t":387,"k":91.2,"d":91,"c":"g","g":11},{"t":397,"k":93.9,"d":92.5,"c":"g","g":11},{"t":400,"k":95,"d":93.9,"c":"g","g":11},{"t":408,"k":99.2,"d":93,"c":"g","g":11},{"t":410,"k":95,"d":91.2,"c":"g","g":11},
    {"t":410,"k":95,"d":91.2,"c":"r","g":12},{"t":413,"k":77.9,"d":82,"c":"r","g":12},{"t":418,"k":35.2,"d":62,"c":"r","g":12},{"t":422,"k":40,"d":53.9,"c":"r","g":12},{"t":423,"k":48.5,"d":52,"c":"r","g":12},
    {"t":423,"k":48.5,"d":52,"c":"g","g":13},{"t":432,"k":59.2,"d":54,"c":"g","g":13},
    {"t":432,"k":59.2,"d":54,"c":"r","g":14},{"t":437,"k":51.2,"d":55.2,"c":"r","g":14},
    {"t":437,"k":51.2,"d":55.2,"c":"g","g":15},{"t":447,"k":64.5,"d":59.2,"c":"g","g":15},{"t":455,"k":75,"d":70,"c":"g","g":15},{"t":462,"k":92,"d":80,"c":"g","g":15},{"t":470,"k":95,"d":88,"c":"g","g":15},
    {"t":470,"k":95,"d":88,"c":"r","g":16},{"t":478,"k":90,"d":92,"c":"r","g":16},
    {"t":478,"k":90,"d":92,"c":"g","g":17},{"t":485,"k":98,"d":92,"c":"g","g":17},{"t":492,"k":85,"d":80,"c":"g","g":17},
    {"t":492,"k":85,"d":80,"c":"r","g":18},{"t":497,"k":40,"d":60,"c":"r","g":18},{"t":501,"k":15,"d":40,"c":"r","g":18},
    {"t":501,"k":15,"d":40,"c":"g","g":19},{"t":506,"k":30,"d":30,"c":"g","g":19},{"t":512,"k":27,"d":25,"c":"g","g":19},{"t":518,"k":55,"d":35,"c":"g","g":19},{"t":524,"k":70,"d":50,"c":"g","g":19},{"t":530,"k":82,"d":65,"c":"g","g":19},{"t":538,"k":88,"d":78,"c":"g","g":19},
    {"t":538,"k":88,"d":78,"c":"r","g":20},{"t":545,"k":75,"d":81,"c":"r","g":20},
    {"t":545,"k":75,"d":81,"c":"g","g":21},{"t":552,"k":85,"d":82,"c":"g","g":21},{"t":560,"k":92,"d":88,"c":"g","g":21},{"t":568,"k":90,"d":89,"c":"g","g":21},{"t":575,"k":95,"d":90,"c":"g","g":21},
    {"t":575,"k":95,"d":90,"c":"r","g":22},{"t":585,"k":80,"d":85,"c":"r","g":22},{"t":595,"k":72,"d":78,"c":"r","g":22},
    {"t":595,"k":72,"d":78,"c":"g","g":23},{"t":605,"k":82,"d":78,"c":"g","g":23},
    {"t":605,"k":82,"d":78,"c":"r","g":24},{"t":615,"k":78,"d":79,"c":"r","g":24},
    {"t":615,"k":78,"d":79,"c":"g","g":25},{"t":625,"k":86,"d":82,"c":"g","g":25},{"t":635,"k":90,"d":84,"c":"g","g":25},
    {"t":635,"k":90,"d":84,"c":"r","g":26},{"t":645,"k":80,"d":84,"c":"r","g":26},{"t":655,"k":70,"d":78,"c":"r","g":26},{"t":663,"k":45,"d":60,"c":"r","g":26},{"t":670,"k":25,"d":40,"c":"r","g":26},{"t":677,"k":18,"d":30,"c":"r","g":26},
    {"t":677,"k":18,"d":30,"c":"g","g":27},{"t":685,"k":40,"d":28,"c":"g","g":27},{"t":693,"k":60,"d":42,"c":"g","g":27},{"t":700,"k":62,"d":52,"c":"g","g":27},{"t":710,"k":75,"d":65,"c":"g","g":27},{"t":720,"k":85,"d":74,"c":"g","g":27},
    {"t":720,"k":85,"d":74,"c":"r","g":28},{"t":730,"k":72,"d":78,"c":"r","g":28},
    {"t":730,"k":72,"d":78,"c":"g","g":29},{"t":740,"k":80,"d":78,"c":"g","g":29},{"t":750,"k":92,"d":83,"c":"g","g":29},{"t":760,"k":88,"d":85,"c":"g","g":29},
    {"t":760,"k":88,"d":85,"c":"r","g":30},{"t":770,"k":75,"d":82,"c":"r","g":30},{"t":780,"k":82,"d":83,"c":"r","g":30},
    {"t":780,"k":82,"d":83,"c":"g","g":31},{"t":790,"k":95,"d":86,"c":"g","g":31},{"t":800,"k":97,"d":93,"c":"g","g":31},{"t":810,"k":99,"d":96,"c":"g","g":31},
    {"t":810,"k":99,"d":96,"c":"r","g":32},{"t":818,"k":92,"d":94,"c":"r","g":32},{"t":825,"k":60,"d":80,"c":"r","g":32},{"t":832,"k":35,"d":58,"c":"r","g":32},{"t":840,"k":18,"d":35,"c":"r","g":32},{"t":848,"k":14,"d":22,"c":"r","g":32},
    {"t":848,"k":14,"d":22,"c":"g","g":33},{"t":856,"k":18,"d":18,"c":"g","g":33},
    {"t":856,"k":18,"d":18,"c":"r","g":34},{"t":864,"k":15,"d":17,"c":"r","g":34},
    {"t":864,"k":15,"d":17,"c":"g","g":35},{"t":872,"k":20,"d":19,"c":"g","g":35},{"t":880,"k":30,"d":25,"c":"g","g":35},{"t":888,"k":52,"d":38,"c":"g","g":35},{"t":895,"k":65,"d":55,"c":"g","g":35},{"t":902,"k":72,"d":66,"c":"g","g":35},{"t":910,"k":68,"d":65,"c":"g","g":35},
    {"t":910,"k":68,"d":65,"c":"r","g":36},{"t":917,"k":50,"d":60,"c":"r","g":36},
    {"t":917,"k":50,"d":60,"c":"g","g":37},{"t":924,"k":62,"d":60,"c":"g","g":37},{"t":932,"k":75,"d":68,"c":"g","g":37},{"t":940,"k":88,"d":78,"c":"g","g":37},{"t":946,"k":80,"d":80,"c":"g","g":37},
    {"t":946,"k":80,"d":80,"c":"r","g":38},{"t":952,"k":70,"d":76,"c":"r","g":38},
    {"t":952,"k":70,"d":76,"c":"g","g":39},{"t":958,"k":78,"d":75,"c":"g","g":39},{"t":964,"k":72,"d":70,"c":"g","g":39},{"t":970,"k":68,"d":66,"c":"g","g":39}]},
   "layer":[
    {"mark":{"type":"area","opacity":0.9},"encoding":{"x":{"field":"t","type":"quantitative","scale":{"domain":[5,1234],"nice":false,"zero":false},"axis":{"values":[11.5,33.3,55.1,76.9,98.6,120.4,142.2,164,185.7,207.5,229.3,251.1,272.9,294.6,316.4,338.2,360,381.7,403.5,425.3,447.1,468.8,490.6,512.4,534.2,555.9,577.7,599.5,621.3,643,664.8,686.6,708.4,730.1,751.9,773.7,795.5,817.2,839,860.8,882.6,904.3,926.1,947.9,969.7,991.4,1013.2,1035,1056.8,1078.5,1100.3,1122.1,1143.9,1165.6,1187.4,1209.2,1231],"labels":false,"ticks":false,"domain":false,"grid":true,"gridColor":"#ececec","minExtent":0,"maxExtent":0,"title":null}},"y":{"field":"k","type":"quantitative"},"y2":{"field":"d"},"detail":{"field":"g","type":"nominal"},"color":{"condition":{"test":"datum.c=='g'","value":"#b2e2b2"},"value":"#f7c2c2"}}},
    {"mark":{"type":"line","color":"#3aa83a","strokeWidth":1.6},"encoding":{"x":{"field":"t","type":"quantitative"},"y":{"field":"k","type":"quantitative"}}},
    {"mark":{"type":"line","color":"#ff2a2a","strokeWidth":1.6},"encoding":{"x":{"field":"t","type":"quantitative"},"y":{"field":"d","type":"quantitative"}}}
   ]},
  {"data":{"values":[{"v":64.6,"lbl":"65,740"}]},
   "layer":[
    {"mark":{"type":"point","shape":"M-1,-0.263L1,-0.263L1,0.263L-1,0.263Z","size":3249,"filled":true,"opacity":1,"strokeWidth":0,"color":"#000000"},"encoding":{"x":{"datum":1263.5},"y":{"field":"v","type":"quantitative"}}},
    {"mark":{"type":"text","align":"left","baseline":"middle","dx":4,"fontSize":12.5,"color":"#ffffff"},"encoding":{"x":{"datum":1234},"y":{"field":"v","type":"quantitative"},"text":{"field":"lbl"}}}
   ]}
 ]}
]}
